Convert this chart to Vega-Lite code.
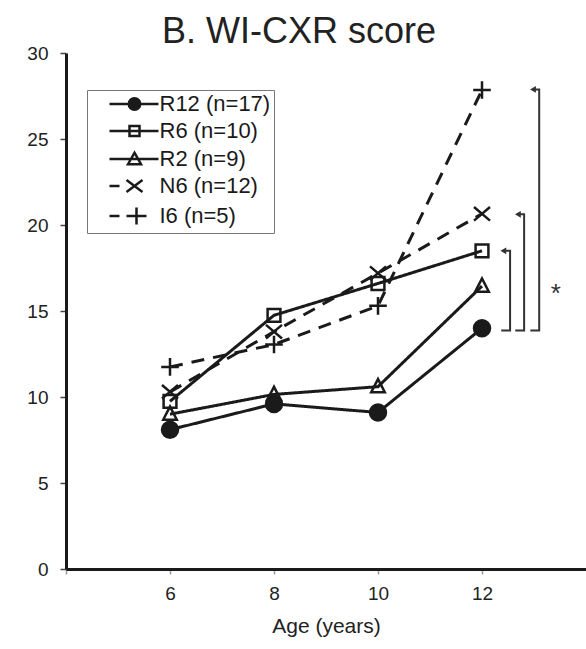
{
  "$schema": "https://vega.github.io/schema/vega-lite/v6.json",
  "width": 520,
  "height": 516,
  "autosize": {"type": "none"},
  "padding": {"left": 66, "top": 53, "right": 0, "bottom": 80},
  "title": {
    "text": "B. WI-CXR score",
    "font": "Liberation Sans",
    "fontSize": 36,
    "fontWeight": "normal",
    "color": "#222222",
    "anchor": "middle",
    "frame": "group",
    "baseline": "alphabetic",
    "offset": 8,
    "dx": -27,
    "dy": 43
  },
  "datasets": {
    "series": [
      {"group": "R12 (n=17)", "age": 6, "score": 8.1},
      {"group": "R12 (n=17)", "age": 8, "score": 9.6},
      {"group": "R12 (n=17)", "age": 10, "score": 9.1},
      {"group": "R12 (n=17)", "age": 12, "score": 14.0},
      {"group": "R6 (n=10)", "age": 6, "score": 9.75},
      {"group": "R6 (n=10)", "age": 8, "score": 14.75},
      {"group": "R6 (n=10)", "age": 10, "score": 16.6},
      {"group": "R6 (n=10)", "age": 12, "score": 18.5},
      {"group": "R2 (n=9)", "age": 6, "score": 9.0},
      {"group": "R2 (n=9)", "age": 8, "score": 10.15},
      {"group": "R2 (n=9)", "age": 10, "score": 10.6},
      {"group": "R2 (n=9)", "age": 12, "score": 16.45},
      {"group": "N6 (n=12)", "age": 6, "score": 10.3},
      {"group": "N6 (n=12)", "age": 8, "score": 13.8},
      {"group": "N6 (n=12)", "age": 10, "score": 17.2},
      {"group": "N6 (n=12)", "age": 12, "score": 20.65},
      {"group": "I6  (n=5)", "age": 6, "score": 11.75},
      {"group": "I6  (n=5)", "age": 8, "score": 13.05},
      {"group": "I6  (n=5)", "age": 10, "score": 15.3},
      {"group": "I6  (n=5)", "age": 12, "score": 27.85}
    ],
    "brackets": [
      {"b": 1, "o": 1, "age": 12.37, "score": 13.86},
      {"b": 1, "o": 2, "age": 12.54, "score": 13.86},
      {"b": 1, "o": 3, "age": 12.54, "score": 18.5},
      {"b": 1, "o": 4, "age": 12.42, "score": 18.5},
      {"b": 2, "o": 1, "age": 12.64, "score": 13.86},
      {"b": 2, "o": 2, "age": 12.81, "score": 13.86},
      {"b": 2, "o": 3, "age": 12.81, "score": 20.62},
      {"b": 2, "o": 4, "age": 12.70, "score": 20.62},
      {"b": 3, "o": 1, "age": 12.93, "score": 13.86},
      {"b": 3, "o": 2, "age": 13.10, "score": 13.86},
      {"b": 3, "o": 3, "age": 13.10, "score": 27.88},
      {"b": 3, "o": 4, "age": 12.99, "score": 27.88}
    ],
    "tips": [
      {"age": 12.41, "score": 18.5},
      {"age": 12.69, "score": 20.62},
      {"age": 12.98, "score": 27.88}
    ],
    "notes": [{"age": 13.42, "score": 16.0, "t": "*"}]
  },
  "encoding": {
    "x": {
      "field": "age",
      "type": "quantitative",
      "scale": {"domain": [4, 14], "nice": false, "zero": false},
      "axis": {
        "values": [4, 6, 8, 10, 12],
        "labelExpr": "datum.value == 4 ? '' : datum.label",
        "title": "Age (years)",
        "tickSize": 5,
        "tickColor": "#999999",
        "tickWidth": 1.5,
        "labelPadding": 10,
        "titlePadding": 12,
        "labelFlush": false
      }
    },
    "y": {
      "field": "score",
      "type": "quantitative",
      "scale": {"domain": [0, 30], "nice": false},
      "axis": {
        "values": [0, 5, 10, 15, 20, 25, 30],
        "title": null,
        "tickSize": 6,
        "tickColor": "#444444",
        "tickWidth": 1.5,
        "labelPadding": 12,
        "labelFlush": false
      }
    }
  },
  "layer": [
    {
      "data": {"name": "series"},
      "mark": {"type": "line", "strokeWidth": 3, "color": "#1a1a1a"},
      "encoding": {
        "detail": {"field": "group", "type": "nominal"},
        "strokeDash": {
          "field": "group",
          "type": "nominal",
          "scale": {
            "domain": ["R12 (n=17)", "R6 (n=10)", "R2 (n=9)", "N6 (n=12)", "I6  (n=5)"],
            "range": [[1, 0], [1, 0], [1, 0], [13, 9], [13, 9]]
          },
          "legend": null
        }
      }
    },
    {
      "data": {"name": "series"},
      "mark": {"type": "point", "size": 256, "strokeWidth": 2.5, "stroke": "#1a1a1a", "opacity": 1, "filled": false},
      "encoding": {
        "shape": {
          "field": "group",
          "type": "nominal",
          "scale": {
            "domain": ["R12 (n=17)", "R6 (n=10)", "R2 (n=9)", "N6 (n=12)", "I6  (n=5)"],
            "range": [
              "circle",
              "M-0.8,-0.8H0.8V0.8H-0.8Z",
              "M-0.85,0.7L0,-0.95L0.85,0.7Z",
              "M-1,-0.85L1,0.85M-1,0.85L1,-0.85",
              "M-1.1,0H1.1M0,-1.1V1.1"
            ]
          },
          "legend": null
        },
        "fill": {
          "field": "group",
          "type": "nominal",
          "scale": {
            "domain": ["R12 (n=17)", "R6 (n=10)", "R2 (n=9)", "N6 (n=12)", "I6  (n=5)"],
            "range": ["#1a1a1a", "transparent", "transparent", "transparent", "transparent"]
          },
          "legend": null
        }
      }
    },
    {
      "data": {"name": "series"},
      "mark": {"type": "point", "size": 0, "strokeWidth": 2.5, "stroke": "#1a1a1a", "opacity": 1, "filled": false},
      "encoding": {
        "shape": {
          "field": "group",
          "type": "nominal",
          "scale": {
            "domain": ["R12 (n=17)", "R6 (n=10)", "R2 (n=9)", "N6 (n=12)", "I6  (n=5)"],
            "range": [
              "M-5,0H4.8M1.15,0A1.15,1.15,0,1,1,-1.15,0A1.15,1.15,0,1,1,1.15,0M0.7,0A0.7,0.7,0,1,1,-0.7,0A0.7,0.7,0,1,1,0.7,0M0.25,0A0.25,0.25,0,1,1,-0.25,0A0.25,0.25,0,1,1,0.25,0",
              "M-5,0H4.8M-1,-1H1V1H-1Z",
              "M-5,0H4.8M-1.3,1.05L0,-1.25L1.3,1.05Z",
              "M-5,0H-3M-1.6,-1.2L1.6,1.2M-1.6,1.2L1.6,-1.2",
              "M-5,0H-3M-1.6,0H2.4M0.4,-1.7V1.7"
            ]
          },
          "legend": {
            "title": null,
            "orient": "none",
            "legendX": 21,
            "legendY": 37,
            "padding": 3,
            "strokeColor": "#777777",
            "fillColor": "white",
            "labelFont": "Liberation Sans",
            "labelFontSize": 22,
            "labelColor": "#1a1a1a",
            "labelLimit": 0,
            "rowPadding": 5,
            "symbolOffset": 33.5,
            "labelOffset": 14,
            "symbolSize": 100,
            "symbolStrokeWidth": 2.5,
            "symbolStrokeColor": "#1a1a1a",
            "symbolOpacity": 1
          }
        }
      }
    },
    {
      "data": {"name": "brackets"},
      "mark": {"type": "line", "strokeWidth": 2, "color": "#333333"},
      "encoding": {
        "detail": {"field": "b", "type": "nominal"},
        "order": {"field": "o", "type": "quantitative"}
      }
    },
    {
      "data": {"name": "tips"},
      "mark": {"type": "point", "shape": "triangle-left", "filled": true, "size": 45, "color": "#333333", "opacity": 1}
    },
    {
      "data": {"name": "notes"},
      "mark": {"type": "text", "font": "Liberation Sans", "fontSize": 26, "color": "#333333", "align": "center", "baseline": "middle"},
      "encoding": {"text": {"field": "t", "type": "nominal"}}
    }
  ],
  "resolve": {"scale": {"shape": "independent"}, "legend": {"shape": "independent"}},
  "config": {
    "view": {"stroke": null},
    "font": "Liberation Sans",
    "axis": {
      "grid": false,
      "domainColor": "#1a1a1a",
      "domainWidth": 3,
      "labelFont": "Liberation Sans",
      "labelFontSize": 19,
      "labelColor": "#222222",
      "titleFont": "Liberation Sans",
      "titleFontSize": 21,
      "titleFontWeight": "normal",
      "titleColor": "#222222"
    }
  }
}
